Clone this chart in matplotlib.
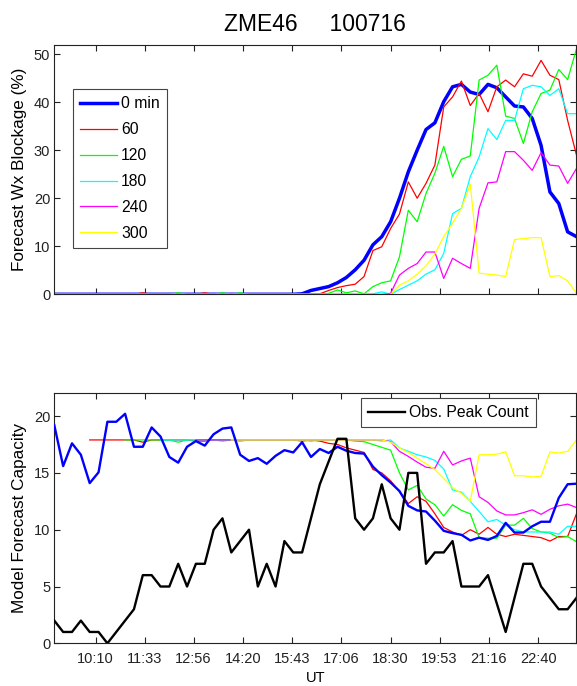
import matplotlib.pyplot as plt
import numpy as np

plt.rcParams['font.family'] = ['Liberation Sans', 'DejaVu Sans']

# 15-minute samples, 09:00 .. 23:45 UT (hours)
ut = 9.0 + 0.25 * np.arange(60)
xtick_labels = ['10:10', '11:33', '12:56', '14:20', '15:43',
                '17:06', '18:30', '19:53', '21:16', '22:40']

# forecast weather blockage (%) for each lead time
wx_0 = [0, 0, 0, 0, 0, 0, 0, 0, 0, 0, 0, 0, 0, 0, 0, 0, 0, 0, 0, 0,
        0, 0, 0, 0, 0, 0, 0, 0, 0.1, 0.8, 1.2, 1.6, 2.4, 3.5, 5.1, 7.1, 10.3, 12.0, 15.1, 20.0,
        25.5, 30.0, 34.3, 35.7, 40.1, 43.2, 43.7, 42.1, 41.6, 43.7, 43.0, 41.1, 39.2, 39.0, 36.6, 31.0, 21.3, 18.9, 13.0, 12.0]
wx_60 = [0, 0, 0, 0, 0, 0, 0, 0, 0, 0, 0.3, 0, 0, 0, 0, 0, 0, 0.3, 0, 0,
         0, 0, 0, 0, 0, 0, 0, 0.1, 0.1, 0.1, 0.1, 0.8, 1.4, 1.8, 2.1, 3.7, 9.1, 9.9, 13.7, 16.7,
         23.4, 20.0, 23.1, 26.9, 39.0, 41.1, 44.4, 39.3, 41.8, 38.0, 43.2, 44.6, 43.2, 45.9, 45.4, 48.7, 45.6, 44.7, 36.2, 29.0]
wx_120 = [0, 0, 0, 0, 0, 0, 0, 0, 0, 0, 0, 0, 0, 0, 0.3, 0, 0, 0, 0, 0.3,
          0, 0.3, 0, 0, 0, 0, 0, 0, 0, 0, 0, 0.2, 0.9, 0.3, 0.7, 0.1, 1.6, 2.4, 2.8, 7.8,
          17.5, 15.1, 21.0, 25.2, 30.8, 24.5, 28.1, 28.8, 44.6, 45.6, 47.7, 37.1, 36.6, 31.4, 38.0, 41.8, 42.5, 46.8, 44.7, 51.1]
wx_180 = [0, 0, 0, 0, 0, 0, 0, 0, 0, 0, 0, 0, 0, 0, 0, 0, 0, 0, 0, 0,
          0, 0, 0, 0, 0, 0, 0, 0, 0, 0, 0, 0, 0, 0, 0, 0, 0.1, 0.5, 0, 1.0,
          1.9, 2.8, 4.2, 5.1, 8.5, 16.8, 17.9, 24.5, 28.6, 34.5, 32.2, 36.2, 36.2, 42.8, 43.5, 43.2, 41.4, 42.8, 37.6, 37.6]
wx_240 = [0, 0, 0, 0, 0, 0, 0, 0, 0, 0, 0, 0, 0, 0, 0, 0, 0, 0, 0, 0,
          0, 0, 0, 0, 0, 0, 0, 0, 0, 0, 0, 0, 0, 0, 0, 0, 0, 0, 0.2, 4.0,
          5.4, 6.4, 8.8, 8.8, 3.3, 7.5, 6.4, 5.4, 17.9, 23.2, 23.4, 29.7, 29.7, 27.9, 25.8, 29.5, 26.9, 26.7, 23.1, 26.2]
wx_300 = [0, 0, 0, 0, 0, 0, 0, 0, 0, 0, 0, 0, 0, 0, 0, 0, 0, 0, 0, 0,
          0, 0, 0, 0, 0, 0, 0, 0, 0, 0, 0, 0, 0, 0, 0, 0, 0, 0, 0, 1.9,
          2.8, 4.2, 5.9, 8.4, 12.0, 14.8, 17.9, 22.9, 4.4, 4.2, 4.0, 3.7, 11.4, 11.6, 11.8, 11.8, 3.7, 3.9, 2.8, 0.2]

# model forecast capacity for each lead time (nan before the forecast exists)
n = np.nan
cap_0 = [19.2, 15.6, 17.6, 16.6, 14.1, 15.05, 19.5, 19.5, 20.2, 17.3, 17.3, 19.0, 18.2, 16.4, 15.9, 17.3, 17.8, 17.4, 18.4, 18.9,
         19.0, 16.6, 16.05, 16.3, 15.8, 16.5, 17.0, 16.8, 17.7, 16.4, 17.1, 16.75, 17.3, 16.95, 16.75, 16.7, 15.55, 14.8, 14.15, 13.4,
         12.1, 11.7, 11.6, 10.8, 9.9, 9.7, 9.55, 9.05, 9.3, 9.1, 9.45, 10.6, 9.75, 9.75, 10.3, 10.7, 10.7, 12.8, 14.0, 14.05]
cap_60 = [n, n, n, n, 17.9, 17.9, 17.9, 17.9, 17.9, 17.9, 17.7, 17.9, 17.9, 17.9, 17.9, 17.9, 17.8, 17.8, 17.9, 17.9,
          17.9, 17.9, 17.9, 17.9, 17.9, 17.9, 17.9, 17.9, 17.8, 17.9, 17.8, 17.6, 17.5, 17.2, 17.0, 16.8, 15.3, 15.0, 14.3, 13.35,
          12.3, 12.9, 12.5, 11.4, 10.2, 9.8, 9.5, 10.0, 9.6, 10.2, 9.6, 9.4, 9.6, 9.5, 9.4, 9.3, 9.0, 9.4, 9.4, 11.4]
cap_120 = [n, n, n, n, n, n, n, n, 17.9, 17.9, 17.9, 17.9, 17.9, 17.9, 17.7, 17.9, 17.9, 17.9, 17.9, 17.8,
           17.9, 17.8, 17.9, 17.9, 17.9, 17.9, 17.9, 17.9, 17.9, 17.8, 17.9, 17.9, 17.9, 17.9, 17.8, 17.75, 17.5, 17.25, 17.0, 15.0,
           13.5, 13.9, 12.7, 12.2, 11.2, 12.2, 11.7, 11.4, 9.3, 9.25, 9.25, 10.4, 10.4, 11.0, 10.1, 9.8, 9.7, 9.3, 9.4, 8.95]
cap_180 = [n, n, n, n, n, n, n, n, n, n, n, n, 17.9, 17.9, 17.9, 17.9, 17.9, 17.9, 17.9, 17.9,
           17.9, 17.9, 17.9, 17.9, 17.9, 17.9, 17.9, 17.9, 17.9, 17.9, 17.9, 17.9, 17.9, 17.9, 17.9, 17.9, 17.9, 17.8, 17.9, 17.2,
           16.9, 16.6, 16.4, 16.1, 15.35, 13.5, 13.3, 12.5, 11.6, 10.7, 10.9, 10.4, 10.0, 9.8, 9.8, 9.8, 9.8, 9.6, 10.3, 10.3]
cap_240 = [n, n, n, n, n, n, n, n, n, n, n, n, n, n, n, n, 17.9, 17.9, 17.9, 17.9,
           17.9, 17.9, 17.9, 17.9, 17.9, 17.9, 17.9, 17.9, 17.9, 17.9, 17.9, 17.9, 17.9, 17.9, 17.9, 17.9, 17.9, 17.9, 17.75, 16.9,
           16.45, 15.95, 15.5, 15.4, 16.9, 15.7, 16.05, 16.3, 12.9, 12.4, 11.65, 11.3, 11.3, 11.5, 11.75, 11.35, 11.8, 12.1, 12.25, 11.95]
cap_300 = [n, n, n, n, n, n, n, n, n, n, n, n, n, n, n, n, n, n, n, n,
           17.9, 17.9, 17.9, 17.9, 17.9, 17.9, 17.9, 17.9, 17.9, 17.9, 17.9, 17.9, 17.9, 17.9, 17.9, 17.9, 17.9, 17.9, 17.7, 17.2,
           16.8, 16.3, 15.8, 15.3, 14.5, 13.7, 13.2, 12.5, 16.6, 16.6, 16.65, 16.85, 14.75, 14.75, 14.65, 14.7, 16.85, 16.75, 16.9, 17.9]

# observed peak count
obs_peak = [2, 1, 1, 2, 1, 1, 0, 1, 2, 3, 6, 6, 5, 5, 7, 5, 7, 7, 10, 11,
            8, 9, 10, 5, 7, 5, 9, 8, 8, 11, 14, 16, 18, 18, 11, 10, 11, 14, 11, 10,
            15, 15, 7, 8, 8, 9, 5, 5, 5, 6, 3.5, 1, 4, 7, 7, 5, 4, 3, 3, 4]

lead_labels = ['0 min', '60', '120', '180', '240', '300']
lead_colors = ['#0000ff', '#ff0000', '#00ff00', '#00ffff', '#ff00ff', '#ffff00']


def hhmm(s):
    h, m = s.split(':')
    return int(h) + int(m) / 60.0


xticks = [hhmm(s) for s in xtick_labels]

fig = plt.figure(figsize=(5.77, 6.86), dpi=100)
ax1 = fig.add_axes([0.0941, 0.571, 0.905, 0.3641])
ax2 = fig.add_axes([0.0941, 0.0622, 0.905, 0.3644])

# top: forecast blockage
wx = [wx_0, wx_60, wx_120, wx_180, wx_240, wx_300]
for k in range(6):
    lw = 2.5 if k == 0 else 0.9
    ax1.plot(ut, wx[k], color=lead_colors[k], lw=lw, label=lead_labels[k])
ax1.set_ylim(0, 52)
ax1.set_yticks([0, 10, 20, 30, 40, 50])
ax1.set_ylabel('Forecast Wx Blockage (%)', fontsize=12.3)
leg1 = ax1.legend(loc='upper left', bbox_to_anchor=(0.035, 0.822), borderaxespad=0,
                  fontsize=11.3, handlelength=2.35, handletextpad=0.3, labelspacing=0.7,
                  borderpad=0.45, fancybox=False, framealpha=1)
leg1.get_frame().set_edgecolor('#444444')
leg1.get_frame().set_linewidth(0.8)

# bottom: forecast capacity and observed peak count
cap = [cap_0, cap_60, cap_120, cap_180, cap_240, cap_300]
for k in range(1, 6):
    ax2.plot(ut, cap[k], color=lead_colors[k], lw=0.9, zorder=2)
ax2.plot(ut, cap_0, color=lead_colors[0], lw=1.7, zorder=3)
ax2.plot(ut, obs_peak, color='black', lw=1.7, zorder=4, label='Obs. Peak Count')
ax2.set_ylim(0, 22)
ax2.set_yticks([0, 5, 10, 15, 20])
ax2.set_ylabel('Model Forecast Capacity', fontsize=12.3)
ax2.set_xlabel('UT', fontsize=10.5, labelpad=4)
leg2 = ax2.legend(loc='upper right', bbox_to_anchor=(0.9224, 0.98), borderaxespad=0,
                  fontsize=11.3, handlelength=2.35, handletextpad=0.3, borderpad=0.45,
                  fancybox=False, framealpha=1)
leg2.get_frame().set_edgecolor('#444444')
leg2.get_frame().set_linewidth(0.8)

for ax in (ax1, ax2):
    ax.set_xlim(ut[0], ut[-1])
    ax.set_xticks(xticks)
    ax.tick_params(direction='in', top=True, right=True, length=4, width=0.8,
                   labelsize=10.5, colors='#222222')
    ax.tick_params(axis='x', pad=6)
    ax.tick_params(axis='y', pad=3)
    for sp in ax.spines.values():
        sp.set_color('#222222')
        sp.set_linewidth(0.8)
    ax.yaxis.set_label_coords(-0.053, 0.5)

ax1.set_xticklabels([])
ax2.set_xticklabels(xtick_labels)

fig.text(0.546, 0.965, 'ZME46     100716', ha='center', va='center', fontsize=16.5)

fig.savefig('out.png', dpi=100)
